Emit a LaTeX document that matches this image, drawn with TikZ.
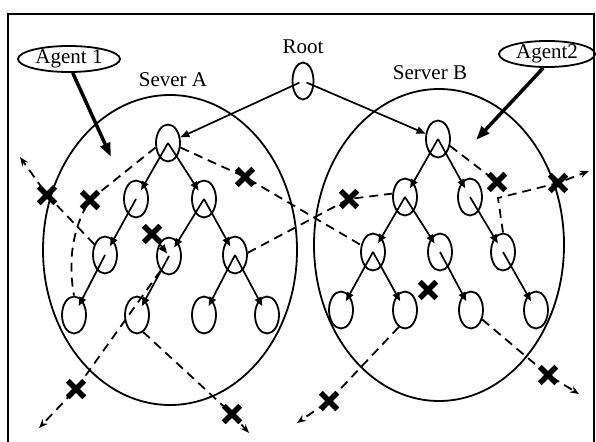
\documentclass[tikz,border=0pt]{standalone}
\usepackage{fontspec}
\setmainfont{Liberation Serif}
\usetikzlibrary{shapes.geometric,shapes.misc,arrows.meta}
\begin{document}
\begin{tikzpicture}[x=1pt,y=-1pt,
  tnode/.style={ellipse,draw,line width=1.8pt,minimum width=24pt,minimum height=37pt,inner sep=0pt},
  srv/.style={ellipse,draw,line width=1.8pt,inner sep=0pt},
  tedge/.style={line width=1.7pt,-{Triangle[length=9pt,width=7pt]},shorten >=10pt},
  mig/.style={line width=1.8pt,dash pattern=on 9pt off 6pt},
  migarr/.style={mig,-{Stealth[length=9pt,width=7pt]}},
  xmark/.style={cross out,draw,line width=5.5pt,minimum size=11pt,inner sep=0pt},
  lbl/.style={font=\fontsize{21}{23}\selectfont,inner sep=0pt},
  agent/.style={ellipse,draw,line width=1.8pt,font=\fontsize{21}{23}\selectfont,inner sep=0pt},
  agarr/.style={line width=3.5pt,-{Triangle[length=14pt,width=10pt]}}
]
\useasboundingbox (0,0) rectangle (596,441);
\fill[white] (0,0) rectangle (596,441);
% frame
\draw[line width=2.5pt] (8,450) -- (8,14) -- (594,14) -- (594,450);

% servers
\node[srv,minimum width=254pt,minimum height=310pt] (sA) at (170,250) {};
\node[srv,minimum width=250pt,minimum height=312pt] (sB) at (439,245) {};
\node[lbl] (lA) at (173,80) {Sever A};
\node[lbl] (lB) at (430,73) {Server B};
\node[lbl] (rl) at (303,47) {Root};

% root
\node[tnode,minimum width=21pt] (r) at (303,81) {};

% tree A
\node[tnode] (a0) at (168,143) {};
\node[tnode] (a1) at (136,199) {};
\node[tnode] (a2) at (204,199) {};
\node[tnode] (a3) at (105,255) {};
\node[tnode] (a4) at (169,256) {};
\node[tnode] (a5) at (235,255) {};
\node[tnode] (a6) at (74,315) {};
\node[tnode] (a7) at (137,315) {};
\node[tnode] (a8) at (204,315) {};
\node[tnode] (a9) at (267,315) {};

% tree B
\node[tnode] (b0) at (438,139) {};
\node[tnode] (b1) at (405,197) {};
\node[tnode] (b2) at (470,197) {};
\node[tnode] (b3) at (373,252) {};
\node[tnode] (b4) at (440,252) {};
\node[tnode] (b5) at (503,252) {};
\node[tnode] (b6) at (341,310) {};
\node[tnode] (b7) at (405,310) {};
\node[tnode] (b8) at (471,310) {};
\node[tnode] (b9) at (536,310) {};

% tree edges
\foreach \p/\c in {a0/a1,a0/a2,a1/a3,a2/a4,a2/a5,a3/a6,a4/a7,a5/a8,a5/a9,
                   b0/b1,b0/b2,b1/b3,b1/b4,b2/b5,b3/b6,b3/b7,b4/b8,b5/b9}
  \draw[tedge] (\p.center) -- (\c.center);
\draw[tedge,shorten >=0pt,shorten <=4pt] (r.center) -- (a0);
\draw[tedge,shorten >=0pt,shorten <=4pt] (r.center) -- (b0);

% X positions
\coordinate (x1) at (47,195);
\coordinate (x2) at (90,200);
\coordinate (x3) at (245,177);
\coordinate (x4) at (152,234);
\coordinate (x5) at (349,199);
\coordinate (x6) at (497,182);
\coordinate (x7) at (558,183);
\coordinate (x8) at (428,290);
\coordinate (x9) at (548,375);
\coordinate (x10) at (329,401);
\coordinate (x11) at (232,414);
\coordinate (x12) at (76,389);
% free ends
\coordinate (e1) at (20,157);
\coordinate (e2) at (589,171);
\coordinate (e3) at (579,394);
\coordinate (e4) at (297,423);
\coordinate (e5) at (249,433);
\coordinate (e6) at (39,428);
\coordinate (k1) at (498,198);

% migration paths
\draw[mig] (a0.200) -- (x2) .. controls (72,228) and (68,262) .. (a6.north);
\draw[migarr] (a3.135) -- (x1) -- (e1);
\draw[mig] (a0.-20) -- (x3) -- (b3.150);
\draw[mig] (a5.10) -- (x5) -- (b1.165);
\draw[mig] (b0.-30) -- (x6);
\draw[migarr] (b5.north) -- (k1) -- (x7) -- (e2);
\draw[migarr] (b8.-40) -- (x9) -- (e3);
\draw[migarr] (b7.250) -- (x10) -- (e4);
\draw[migarr] (a7.-70) -- (x11) -- (e5);
\draw[migarr] (a4.240) -- (x12) -- (e6);
\draw[tedge,shorten >=3pt] (x4) -- (a4.center);

% X marks
\foreach \i in {1,...,12}
  \node[xmark] (xm\i) at (x\i) {};

% agents
\node[agent,minimum width=102pt,minimum height=25pt] (ag1) at (69,59) {Agent 1};
\node[agent,minimum width=96pt,minimum height=25pt] (ag2) at (547,54) {Agent2};
\coordinate (t1) at (111,157);
\coordinate (t2) at (476,140);
\draw[agarr] (ag1.285) -- (t1);
\draw[agarr] (ag2.255) -- (t2);
\end{tikzpicture}
\end{document}
